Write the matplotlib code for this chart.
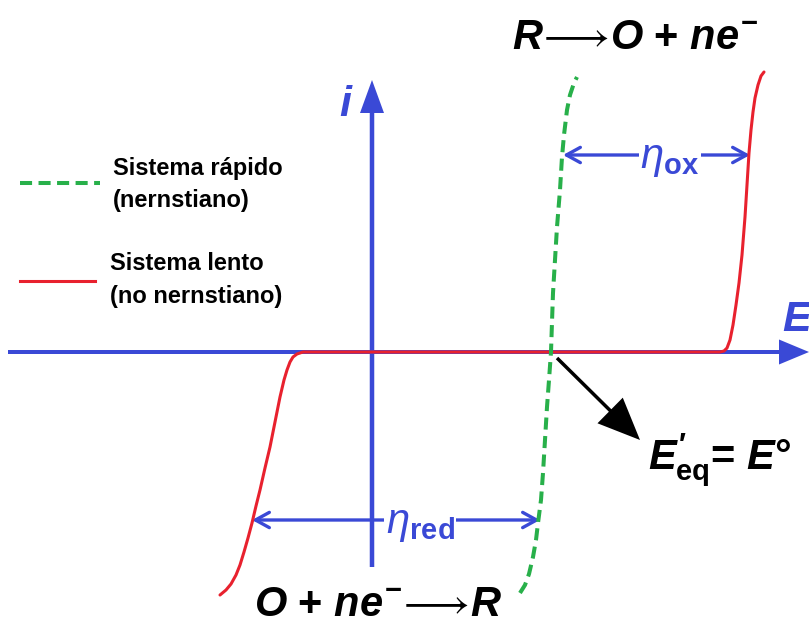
import matplotlib
matplotlib.use("Agg")
import matplotlib.pyplot as plt

plt.rcParams['font.family'] = ['Liberation Sans', 'DejaVu Sans']
plt.rcParams['mathtext.fontset'] = 'custom'
plt.rcParams['mathtext.rm'] = 'Liberation Sans:bold'
plt.rcParams['mathtext.it'] = 'Liberation Sans:bold:italic'
plt.rcParams['mathtext.bf'] = 'Liberation Sans:bold'
plt.rcParams['mathtext.sf'] = 'Liberation Sans:italic'

# potential E (E° = 0) and current i, arbitrary units
fast_E = [-0.31, -0.26, -0.22, -0.18, -0.15, -0.13, -0.10, -0.08, -0.06,
          -0.04, -0.02, 0.0, 0.01, 0.02, 0.04, 0.06, 0.09, 0.11, 0.13, 0.16,
          0.19, 0.23, 0.26]
fast_i = [-2.41, -2.33, -2.22, -2.05, -1.88, -1.71, -1.48, -1.21, -0.88,
          -0.55, -0.28, 0.0, 0.30, 0.59, 0.92, 1.25, 1.62, 1.95, 2.17, 2.42,
          2.57, 2.69, 2.75]

slow_E = [-3.31, -3.25, -3.20, -3.15, -3.11, -3.07, -3.03, -2.99, -2.95,
          -2.91, -2.86, -2.81, -2.76, -2.71, -2.67, -2.64, -2.61, -2.58,
          -2.54, -2.48,
          1.69, 1.73, 1.76, 1.79, 1.82, 1.85, 1.88, 1.91, 1.94, 1.96, 1.98,
          2.00, 2.02, 2.04, 2.07, 2.10, 2.13]
slow_i = [-2.43, -2.38, -2.32, -2.23, -2.13, -2.00, -1.86, -1.71, -1.54,
          -1.38, -1.16, -0.95, -0.70, -0.45, -0.28, -0.18, -0.10, -0.05,
          -0.02, 0.0,
          0.0, 0.01, 0.04, 0.12, 0.27, 0.47, 0.69, 0.97, 1.35, 1.67, 1.99,
          2.22, 2.40, 2.54, 2.67, 2.76, 2.80]

# overpotential brackets: (E start, E end, i level)
eta_ox = (0.12, 1.99, 1.97)
eta_red = (-2.99, -0.11, -1.68)

BLUE = '#3a49d6'
GREEN = '#28b04a'
RED = '#e8212e'

I_AXIS_E = -1.79

fig = plt.figure(figsize=(8.09, 6.25), dpi=100)
ax = fig.add_axes([0, 0, 1, 1])
ax.set_xlim(-5.51, 2.58)
ax.set_ylim(-2.73, 3.52)
ax.axis('off')

# axes with arrowheads
ax.arrow(-5.43, 0, 8.01, 0, width=0.04, head_width=0.25, head_length=0.3,
         length_includes_head=True, color=BLUE, lw=0, zorder=1)
ax.arrow(I_AXIS_E, -2.15, 0, 4.87, width=0.045, head_width=0.24,
         head_length=0.33, length_includes_head=True, color=BLUE, lw=0,
         zorder=1)
ax.text(I_AXIS_E - 0.27, 2.47, 'i', color=BLUE, fontsize=31,
        fontweight='bold', fontstyle='italic', ha='center', va='center')
ax.text(2.31, 0.32, 'E', color=BLUE, fontsize=31, fontweight='bold',
        fontstyle='italic', ha='left', va='center')

# curves
ax.plot(slow_E, slow_i, color=RED, lw=2.2, solid_joinstyle='round',
        solid_capstyle='round', zorder=3)
ax.plot(fast_E, fast_i, color=GREEN, lw=2.9, linestyle=(0, (3, 1.6)),
        zorder=4)

# overpotential arrows
for e0, e1, lev in (eta_ox, eta_red):
    ax.annotate('', xy=(e1, lev), xytext=(e0, lev),
                arrowprops=dict(arrowstyle='<->,head_length=1.0,head_width=0.55',
                                color=BLUE, lw=2.4, shrinkA=0, shrinkB=0),
                zorder=2)
ax.text(1.19, 1.93, r'$\mathsf{\eta}_{\mathbf{ox}}$', color=BLUE, fontsize=30,
        ha='center', va='center', zorder=5,
        bbox=dict(facecolor='white', edgecolor='none', pad=1))
ax.text(-1.31, -1.72, r'$\mathsf{\eta}_{\mathbf{red}}$', color=BLUE,
        fontsize=30, ha='center', va='center', zorder=5,
        bbox=dict(facecolor='white', edgecolor='none', pad=1))

# equilibrium potential pointer
ax.arrow(0.06, -0.06, 0.83, -0.82, width=0.035, head_width=0.36,
         head_length=0.42, length_includes_head=True, color='black', lw=0,
         zorder=5)
ax.text(0.97, -1.08, r"$E_{\mathrm{eq}}'$= $E$°", fontsize=30,
        fontweight='bold', ha='left', va='center')

# half reactions
ax.text(0.84, 3.14, r'$R\!\longrightarrow\!O$ + $ne^{-}$', fontsize=30,
        fontweight='bold', ha='center', va='center')
ax.text(-1.73, -2.53, r'$O$ + $ne^{-}\!\longrightarrow\!R$', fontsize=30,
        fontweight='bold', ha='center', va='center')

# legend
ax.plot([-5.31, -4.51], [1.69, 1.69], color=GREEN, lw=2.9,
        linestyle=(0, (3, 1.6)))
ax.text(-4.38, 1.67, 'Sistema rápido\n(nernstiano)', fontsize=17,
        fontweight='bold', ha='left', va='center', linespacing=1.5)
ax.plot([-5.31, -4.56], [0.71, 0.71], color=RED, lw=2.2)
ax.text(-4.41, 0.72, 'Sistema lento\n(no nernstiano)', fontsize=17,
        fontweight='bold', ha='left', va='center', linespacing=1.5)

fig.savefig('out.png', dpi=100)
